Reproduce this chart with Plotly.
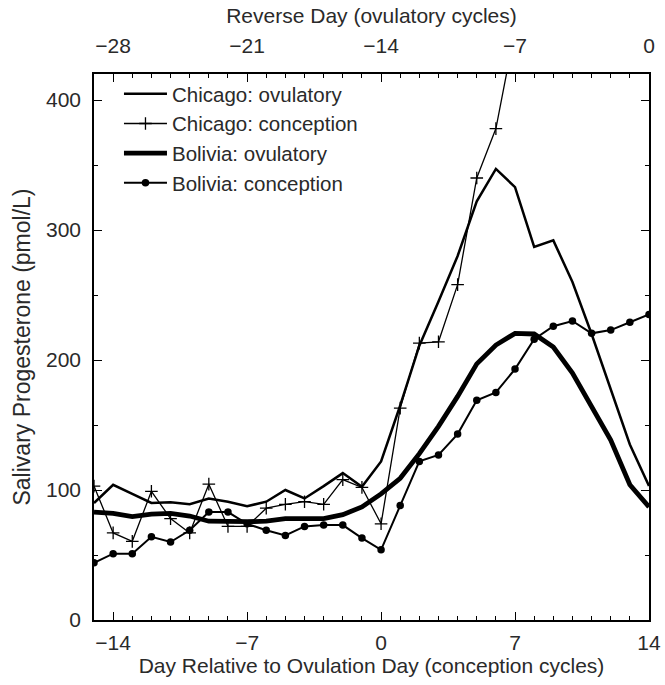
import plotly.graph_objects as go

# Day relative to ovulation (conception cycles) and reverse day (ovulatory cycles)
day = list(range(-15, 15))
reverse_day = list(range(-29, 1))

chicago_ovulatory = [90, 104, 97, 90, 90.5, 89, 93.5, 91, 87.5, 91, 100, 93.5, 103, 113, 102.5, 122,
                     165, 211, 245, 280, 322, 347, 333, 287, 292, 260, 220, 178, 135, 103]
chicago_conception_days = list(range(-15, 8))
chicago_conception = [103, 67, 60.5, 99, 78, 67, 104.5, 72, 72, 86, 89, 91, 89, 108, 102, 74,
                      163, 213, 214, 258, 340, 378, 454]
bolivia_ovulatory = [83, 82, 79.5, 81.5, 82, 80, 76, 75.6, 75.6, 76, 78, 78, 78, 81, 87, 97,
                     109, 128, 149, 172, 197, 211.5, 220.5, 220, 210, 190, 164, 138.5, 104, 87]
bolivia_conception = [44, 51, 51, 64, 60, 69, 83, 83, 74, 69, 65, 72, 73, 73, 63, 54,
                      88, 122, 127, 143, 169, 175, 193, 216, 226, 230, 220.5, 223, 229, 235]

FONT = "Liberation Sans, Arial, Helvetica, sans-serif"
TXT = "#2a2a2a"
FS = 21

fig = go.Figure()

fig.add_trace(go.Scatter(x=reverse_day, y=bolivia_ovulatory, xaxis="x2", mode="lines",
                         name="Bolivia: ovulatory", line=dict(color="black", width=4.8),
                         legendrank=3))
fig.add_trace(go.Scatter(x=reverse_day, y=chicago_ovulatory, xaxis="x2", mode="lines",
                         name="Chicago: ovulatory", line=dict(color="black", width=2.5),
                         legendrank=1))
fig.add_trace(go.Scatter(x=chicago_conception_days, y=chicago_conception, mode="lines+markers",
                         name="Chicago: conception", line=dict(color="black", width=1.3),
                         marker=dict(symbol="cross-thin", size=9, line=dict(color="black", width=1.3)),
                         legendrank=2))
fig.add_trace(go.Scatter(x=day, y=bolivia_conception, mode="lines+markers",
                         name="Bolivia: conception", line=dict(color="black", width=2),
                         marker=dict(symbol="circle", size=7.5, color="black"),
                         legendrank=4))

axis_common = dict(showgrid=False, zeroline=False, showline=True, linecolor="black", linewidth=1.5,
                   ticks="inside", ticklen=8, tickwidth=1.2, tickcolor="black", automargin=False,
                   tickfont=dict(family=FONT, size=FS, color=TXT))

fig.update_layout(
    width=665, height=685,
    margin=dict(l=94, r=16, t=74, b=65),
    paper_bgcolor="white", plot_bgcolor="white",
    font=dict(family=FONT, size=FS, color=TXT),
    showlegend=True,
    legend=dict(x=0.045, y=1.0, xanchor="left", yanchor="top", bgcolor="rgba(0,0,0,0)",
                font=dict(family=FONT, size=20.5, color=TXT), itemwidth=43,
                traceorder="normal"),
    xaxis=dict(range=[-15, 14], tick0=-14, dtick=7, ticklabelstandoff=3,
               minor=dict(tick0=-15, dtick=1, ticks="inside", ticklen=4, tickcolor="black", tickwidth=1),
               title=dict(text="Day Relative to Ovulation Day (conception cycles)", standoff=3,
                          font=dict(family=FONT, size=FS, color=TXT)),
               **axis_common),
    xaxis2=dict(range=[-29, 0], tick0=-28, dtick=7, overlaying="x", side="top", anchor="y",
                ticklabelstandoff=11,
                minor=dict(tick0=-29, dtick=1, ticks="inside", ticklen=4, tickcolor="black", tickwidth=1),
                title=dict(text="Reverse Day (ovulatory cycles)", standoff=4,
                           font=dict(family=FONT, size=FS, color=TXT)),
                **axis_common),
    yaxis=dict(range=[0, 420], tick0=0, dtick=100, mirror="ticks", ticklabelstandoff=7,
               minor=dict(dtick=50, ticks="inside", ticklen=4, tickcolor="black", tickwidth=1),
               title=dict(text="Salivary Progesterone (pmol/L)", standoff=9,
                          font=dict(family=FONT, size=23, color=TXT)),
               **axis_common),
)

fig.write_html("out.html", config={"displayModeBar": False},
               post_script="document.body.style.margin='0px';")
